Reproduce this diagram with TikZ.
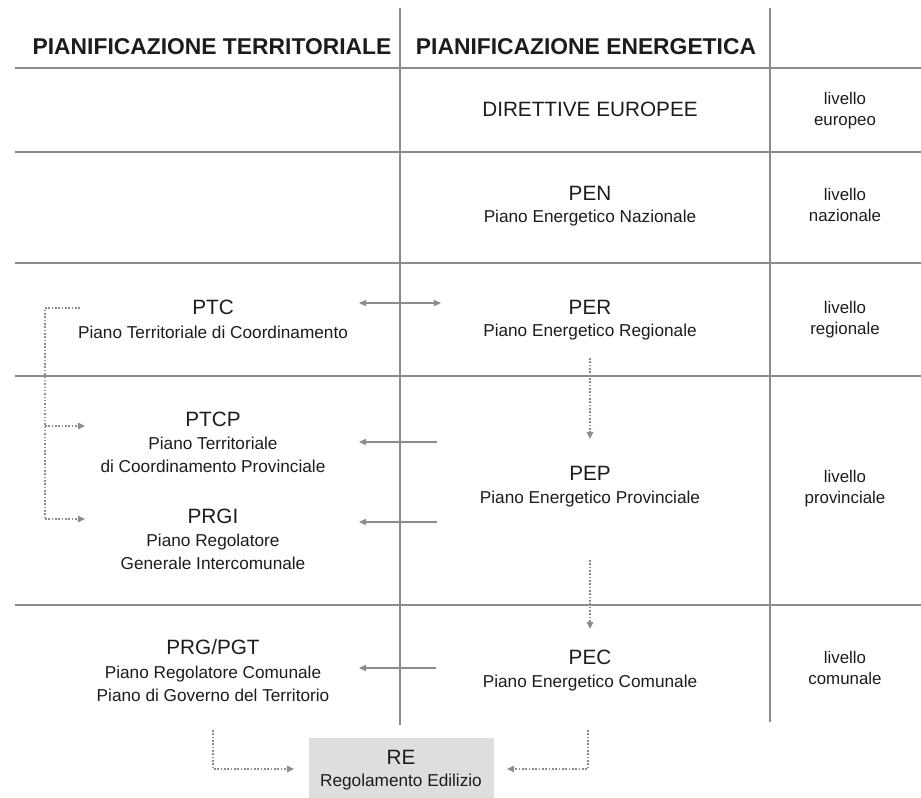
\documentclass[tikz,border=0pt]{standalone}
\usepackage{fontspec}
\setmainfont{Liberation Sans}
\usetikzlibrary{arrows.meta, positioning}
\definecolor{grigio}{HTML}{8C8C8C}
\definecolor{testo}{HTML}{1C1C1C}
\definecolor{sfondoRE}{HTML}{DEDEDE}
\tikzstyle{titolo}=[font=\bfseries\fontsize{13}{15}\selectfont, text=testo, inner sep=0pt]
\tikzstyle{sigla}=[font=\fontsize{11.8}{14}\selectfont, text=testo, inner sep=0pt]
\tikzstyle{descr}=[font=\fontsize{9.8}{12.8}\selectfont, text=testo, align=center, inner sep=0pt]
\tikzstyle{livello}=[font=\fontsize{9.6}{11.9}\selectfont, text=testo, align=center, inner sep=0pt]
\tikzstyle{griglia}=[draw=grigio, line width=0.8pt]
\tikzstyle{freccia}=[draw=grigio, line width=0.6pt, -{Triangle[length=4pt,width=3.6pt]}]
\tikzstyle{doppia}=[draw=grigio, line width=0.6pt, {Triangle[length=4pt,width=3.6pt]}-{Triangle[length=4pt,width=3.6pt]}]
\tikzstyle{punti}=[draw=grigio, line width=0.9pt, densely dotted]
\tikzstyle{punteggiata}=[punti, -{Triangle[length=4pt,width=3.6pt]}]
\tikzstyle{boxre}=[fill=sfondoRE, minimum width=3.7cm, minimum height=1.2cm, inner sep=0pt]

\begin{document}
\begin{tikzpicture}[x=0.02cm, y=-0.02cm]
	\useasboundingbox (0,0) rectangle (921,798);

	% griglia
	\coordinate (v1a) at (400,8);
	\coordinate (v1b) at (400,725);
	\coordinate (v2a) at (770,8);
	\coordinate (v2b) at (770,722);
	\draw[griglia] (v1a) -- (v1b);
	\draw[griglia] (v2a) -- (v2b);
	\foreach \y in {68,152,263,376,605}
		\draw[griglia] (15,\y) -- (921,\y);

	% intestazioni
	\node[style=titolo] (titT) at (212,47) {PIANIFICAZIONE TERRITORIALE};
	\node[style=titolo] (titE) at (586,47) {PIANIFICAZIONE ENERGETICA};

	% pianificazione energetica
	\node[style=sigla] (dir) at (590,109) {DIRETTIVE EUROPEE};
	\node[style=sigla] (pen) at (590,193) {PEN};
	\node[style=descr] (pend) at (590,218) {Piano Energetico Nazionale};
	\node[style=sigla] (per) at (590,307) {PER};
	\node[style=descr] (perd) at (590,332) {Piano Energetico Regionale};
	\node[style=sigla] (pep) at (590,473) {PEP};
	\node[style=descr] (pepd) at (590,499) {Piano Energetico Provinciale};
	\node[style=sigla] (pec) at (590,657) {PEC};
	\node[style=descr] (pecd) at (590,683) {Piano Energetico Comunale};

	% pianificazione territoriale
	\node[style=sigla] (ptc) at (213,307) {PTC};
	\node[style=descr] (ptcd) at (213,332) {Piano Territoriale di Coordinamento};
	\node[style=sigla] (ptcp) at (213,419) {PTCP};
	\node[style=descr] (ptcpd) at (213,455) {Piano Territoriale\\di Coordinamento Provinciale};
	\node[style=sigla] (prgi) at (213,516) {PRGI};
	\node[style=descr] (prgid) at (213,552) {Piano Regolatore\\Generale Intercomunale};
	\node[style=sigla] (prg) at (213,647) {PRG/PGT};
	\node[style=descr] (prgd) at (213,684) {Piano Regolatore Comunale\\Piano di Governo del Territorio};

	% livelli
	\node[style=livello] (liv1) at (845,111) {livello\\europeo};
	\node[style=livello] (liv2) at (845,205) {livello\\nazionale};
	\node[style=livello] (liv3) at (845,320) {livello\\regionale};
	\node[style=livello] (liv4) at (845,489) {livello\\provinciale};
	\node[style=livello] (liv5) at (845,668) {livello\\comunale};

	% regolamento edilizio
	\node[style=boxre] (re) at (401.5,768) {};
	\node[style=sigla] (resig) at (401,757) {RE};
	\node[style=descr] (red) at (401,782) {Regolamento Edilizio};

	% frecce
	\coordinate (ptc-e) at (359,303);
	\coordinate (per-w) at (441,303);
	\coordinate (ptcp-e) at (359,442);
	\coordinate (pep-w1) at (437,442);
	\coordinate (prgi-e) at (359,522);
	\coordinate (pep-w2) at (437,522);
	\coordinate (prg-e) at (359,668);
	\coordinate (pec-w) at (436,668);
	\draw[style=doppia] (ptc-e) -- (per-w);
	\draw[style=freccia] (pep-w1) -- (ptcp-e);
	\draw[style=freccia] (pep-w2) -- (prgi-e);
	\draw[style=freccia] (pec-w) -- (prg-e);

	% frecce punteggiate
	\coordinate (ptc-w) at (80,308);
	\coordinate (angolo) at (45,519);
	\coordinate (ptcp-w) at (85,426);
	\coordinate (prgi-w) at (85,519);
	\draw[style=punti] (ptc-w) -| (angolo);
	\draw[style=punteggiata] (angolo |- ptcp-w) -- (ptcp-w);
	\draw[style=punteggiata] (angolo) -- (prgi-w);

	\coordinate (per-s) at (590,358);
	\coordinate (pep-n) at (590,439);
	\coordinate (pep-s) at (590,560);
	\coordinate (pec-n) at (590,629);
	\draw[style=punteggiata] (per-s) -- (pep-n);
	\draw[style=punteggiata] (pep-s) -- (pec-n);

	\coordinate (prg-s) at (213,730);
	\coordinate (re-w) at (294,769);
	\coordinate (pec-s) at (588,730);
	\coordinate (re-e) at (507,769);
	\draw[style=punteggiata] (prg-s) |- (re-w);
	\draw[style=punteggiata] (pec-s) |- (re-e);
\end{tikzpicture}
\end{document}
